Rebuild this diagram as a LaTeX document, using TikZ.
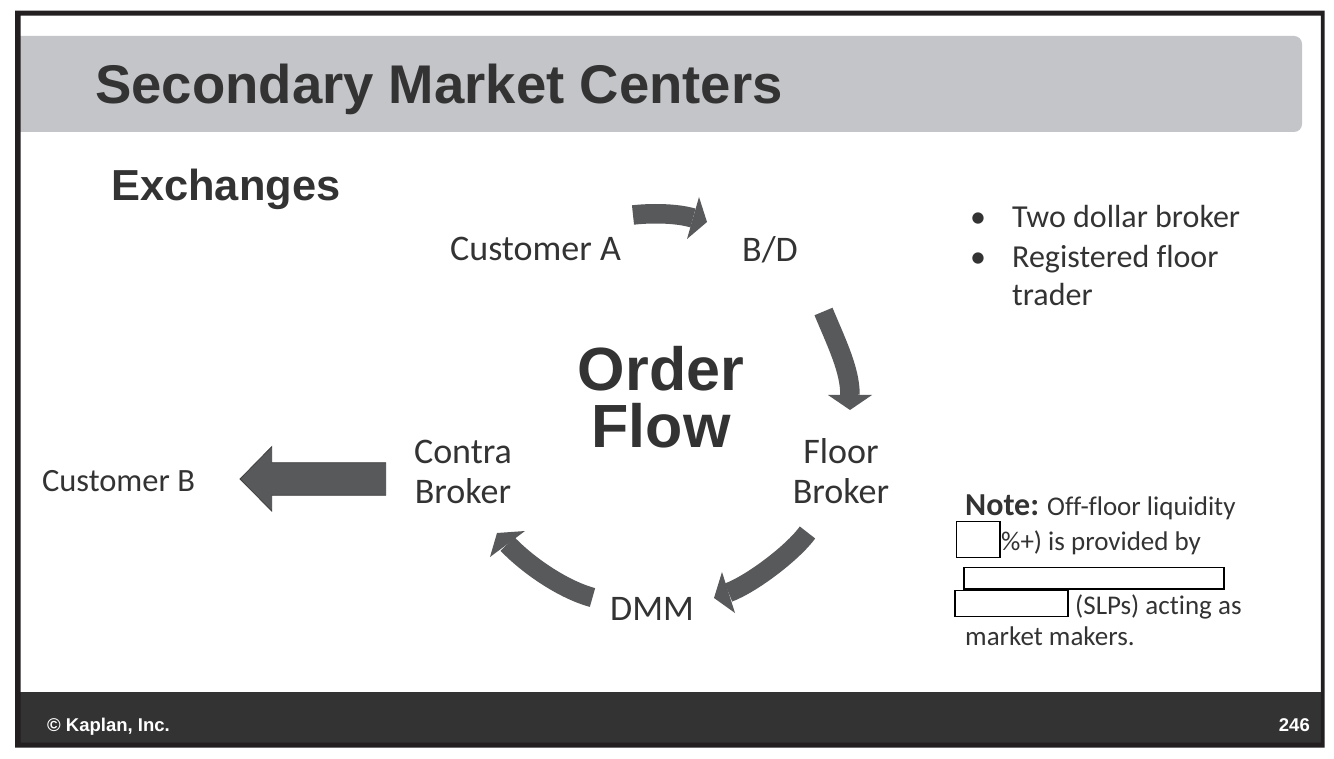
\documentclass[tikz,border=0pt]{standalone}
\usepackage{fontspec}
\setmainfont[Ligatures=NoCommon]{Carlito}
\newfontfamily\arialfont{Liberation Sans}
\definecolor{frameblk}{HTML}{231F20}
\definecolor{titlegray}{HTML}{C4C5C8}
\definecolor{footdark}{HTML}{333333}
\definecolor{txt}{HTML}{333333}
\definecolor{arrowgray}{HTML}{58595B}
\begin{document}
\begin{tikzpicture}[x=1pt,y=-1pt,
  lbl/.style={inner sep=0pt, anchor=base, text=txt, font=\fontsize{36}{43}\selectfont},
  bul/.style={inner sep=0pt, anchor=base west, text=txt, font=\fontsize{32}{38}\selectfont},
  notetxt/.style={inner sep=0pt, anchor=base west, text=txt, font=\fontsize{27}{32}\selectfont},
  bigtitle/.style={inner sep=0pt, anchor=base west, text=txt, font=\arialfont\bfseries\fontsize{54.5}{60}\selectfont},
  flowtitle/.style={inner sep=0pt, anchor=base, text=txt, font=\arialfont\bfseries\fontsize{61}{66}\selectfont},
  foottxt/.style={inner sep=0pt, text=white, font=\arialfont\bfseries\fontsize{18.5}{22}\selectfont},
  shaft/.style={draw=arrowgray, line width=19.5pt, line cap=butt},
  headtri/.style={fill=arrowgray},
  hidebox/.style={draw=black, line width=1.3pt, fill=white}]
\useasboundingbox (0,0) rectangle (1334,759);
\fill[white] (0,0) rectangle (1334,759);
% title band
\fill[titlegray] (15,36) [rounded corners=8pt] -- (1302,36) -- (1302,132) [sharp corners] -- (15,132) -- cycle;
% footer band
\fill[footdark] (15,692) rectangle (1322,743);
% frame
\fill[frameblk, even odd rule] (15,10.7) rectangle (1324.5,747.5) (20.7,15.7) rectangle (1320.8,742.5);
% titles
\node[bigtitle] (title) at (95,104) {Secondary Market Centers};
\node[inner sep=0pt, anchor=base west, text=txt, font=\arialfont\bfseries\fontsize{43.4}{50}\selectfont] (exch) at (111,201) {Exchanges};
\node[flowtitle] (order) at (661,391) {Order};
\node[flowtitle] (flow) at (661,447) {Flow};
% labels
\node[lbl] (custA) at (535.5,261) {Customer A};
\node[lbl] (bd) at (770,262) {B/D};
\node[lbl] (floor1) at (841,463.5) {Floor};
\node[lbl] (floor2) at (841,503) {Broker};
\node[lbl] (contra1) at (463,463.5) {Contra};
\node[lbl] (contra2) at (463,503) {Broker};
\node[lbl] (dmm) at (652,620) {DMM};
\node[lbl, font=\fontsize{32.5}{39}\selectfont] (custB) at (118.5,491) {Customer B};
% bullets
\node[bul] (b1dot) at (970,228) {•};
\node[bul] (b1) at (1012,228) {Two dollar broker};
\node[bul] (b2dot) at (970,268) {•};
\node[bul] (b2) at (1012,268) {Registered floor};
\node[bul] (b3) at (1012,306) {trader};
% note
\node[inner sep=0pt, anchor=base west, text=txt, font=\bfseries\fontsize{32}{38}\selectfont] (notelbl) at (965,515) {Note:};
\node[notetxt] (n1) at (1047,515) {Off-floor liquidity};
\node[notetxt] (n2) at (1001,550) {\%+) is provided by};
\node[notetxt] (n4) at (1075,614) {(SLPs) acting as};
\node[notetxt] (n5) at (965,645) {market makers.};
\draw[hidebox] (956.7,521.7) rectangle (1000,557.5);
\draw[hidebox] (964,567.7) rectangle (1224,589);
\draw[hidebox] (955,590.7) rectangle (1068,616.7);
% arrow 1: Customer A -> B/D
\coordinate (a1s) at (633,215);
\coordinate (a1b) at (693,218);
\coordinate (a1t) at (707,222);
\draw[shaft] (a1s) .. controls (650,213) and (676,213) .. (a1b);
\fill[headtri] (699,197) -- (a1t) -- (687,239) -- cycle;
% arrow 2: B/D -> Floor Broker
\coordinate (a2s) at (823.5,311.5);
\coordinate (a2b) at (850,395);
\coordinate (a2t) at (850,410);
\draw[shaft] (a2s) .. controls (837,344) and (850,370) .. (a2b);
\fill[headtri] (828,395) -- (a2t) -- (872,395) -- cycle;
% arrow 3: Floor Broker -> DMM
\coordinate (a3s) at (807.5,532.5);
\coordinate (a3b) at (728.5,592.5);
\coordinate (a3t) at (714,598);
\draw[shaft] (a3s) .. controls (792.7,552.8) and (751.8,583.8) .. (a3b);
\fill[headtri] (722,572) -- (a3t) -- (735,613) -- cycle;
% arrow 4: DMM -> Contra Broker
\coordinate (a4s) at (592.5,597.5);
\coordinate (a4b) at (507.5,544);
\coordinate (a4t) at (497,533);
\draw[shaft] (a4s) .. controls (563.4,589.7) and (528.2,565.6) .. (a4b);
\fill[headtri] (525,531) -- (a4t) -- (490,557) -- cycle;
% arrow 5: Contra Broker -> Customer B (block arrow)
\coordinate (a5s) at (385.7,479);
\coordinate (a5t) at (240,479);
\fill[arrowgray, draw=black!75, line width=0.8pt] (385.7,462.7) -- (271.7,462.7) -- (271.7,446.7) -- (a5t) -- (271.7,511) -- (271.7,495.3) -- (385.7,495.3) -- cycle;
% footer
\node[foottxt, anchor=base west] (copy) at (47,731) {© Kaplan, Inc.};
\node[foottxt, anchor=base east] (page) at (1310,731) {246};
\end{tikzpicture}
\end{document}
